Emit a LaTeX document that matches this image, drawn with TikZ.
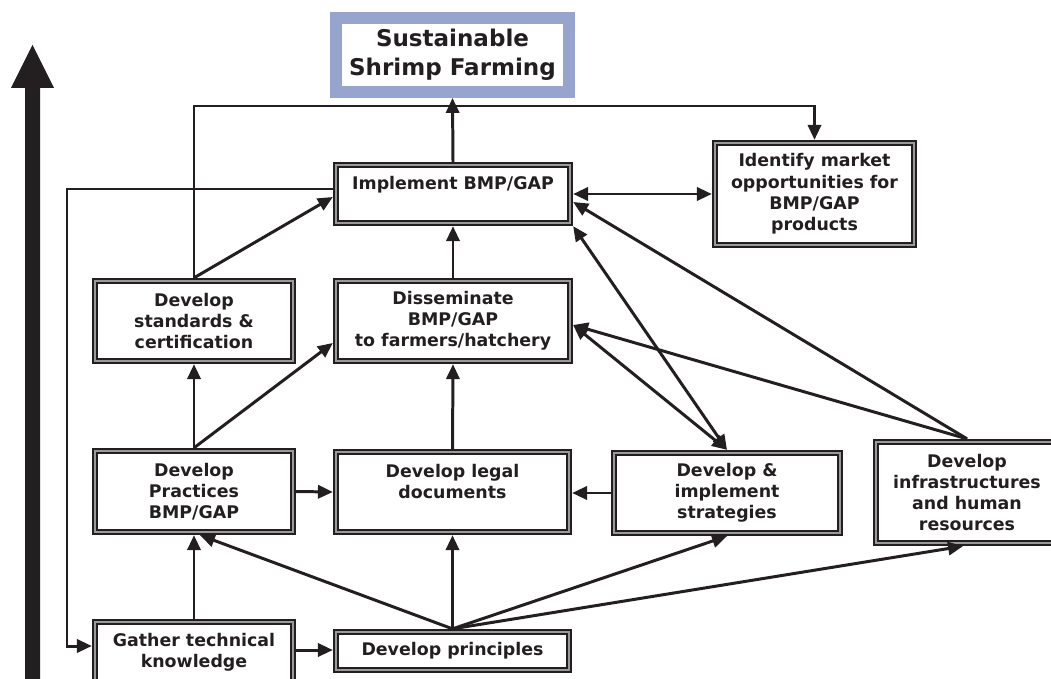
\documentclass[tikz,border=0pt]{standalone}
\usepackage{fontspec}
\setmainfont{DejaVu Sans}
\usetikzlibrary{arrows.meta,calc}
\definecolor{ink}{HTML}{231F20}
\definecolor{band}{HTML}{9A9A9A}
\definecolor{blueband}{HTML}{97A4CE}
\tikzset{
  box/.style={draw=ink, line width=3.6pt, fill=white, text=ink,
    font=\fontsize{9.9}{12.1}\selectfont\bfseries, align=center, inner sep=0pt,
    postaction={draw=band, line width=0.8pt}},
  titlebox/.style={draw=blueband, line width=6.8pt, fill=white, text=ink,
    font=\fontsize{13.1}{16.6}\selectfont\bfseries, align=center, inner sep=0pt},
  conn/.style={draw=ink, line width=1.7pt, -{Triangle[length=8.5pt,width=7.5pt]}},
  dconn/.style={draw=ink, line width=1.7pt, {Triangle[length=8.5pt,width=7.5pt]}-{Triangle[length=8.5pt,width=7.5pt]}},
}
\begin{document}
\begin{tikzpicture}[x=0.02cm, y=-0.02cm]
\useasboundingbox (0,0) rectangle (1051,679);
\clip (0,0) rectangle (1051,679);

% big upward arrow
\fill[ink] (25,690) -- (25,88) -- (11,88) -- (32.5,45) -- (54,88) -- (40,88) -- (40,690) -- cycle;

% nodes
\node[titlebox, minimum width=4.66cm, minimum height=1.48cm] (sus) at (452.5,55) {Sustainable\\Shrimp Farming};
\node[box, minimum width=4.68cm, minimum height=1.16cm] (impl) at (453,194) {Implement BMP/GAP\\~};
\node[box, minimum width=3.98cm, minimum height=2.04cm] (ident) at (814.5,194) {Identify market\\opportunities for\\BMP/GAP\\products};
\node[box, minimum width=3.96cm, minimum height=1.60cm] (std) at (194,321) {Develop\\standards \&\\certification};
\node[box, minimum width=4.68cm, minimum height=1.60cm] (diss) at (453,321) {Disseminate\\BMP/GAP\\to farmers/hatchery};
\node[box, minimum width=3.96cm, minimum height=1.62cm] (prac) at (194,491.5) {Develop\\Practices\\BMP/GAP};
\node[box, minimum width=4.66cm, minimum height=1.60cm] (legal) at (452.5,492) {Develop legal\\documents\\~};
\node[box, minimum width=4.52cm, minimum height=1.60cm] (strat) at (727,493) {Develop \&\\implement\\strategies};
\node[box, minimum width=3.64cm, minimum height=2.02cm] (infra) at (967,492.5) {Develop\\infrastructures\\and human\\resources};
\node[box, minimum width=3.96cm, minimum height=1.22cm] (gather) at (194,652.5) {Gather technical\\knowledge};
\node[box, minimum width=4.66cm, minimum height=0.76cm] (prin) at (452.5,651) {Develop principles};

% connectors
\draw[conn] (impl.north) -- (sus.south);
\draw[conn] (std.north) |- (ident.north |- 0,106) -- (ident.north);
\draw[conn] ($(impl.west)+(0,-5)$) -| (67,400) |- ($(gather.west)+(0,-6.5)$);
\draw[conn] (std.north) -- ($(impl.west)+(0,3)$);
\draw[conn] (diss.north) -- (impl.south);
\draw[dconn] (impl.east) -- (ident.west);
\draw[conn] (infra.north) -- ($(impl.east)+(0,8)$);
\draw[dconn] (strat.north) -- (impl.south east);
\draw[dconn] (strat.north) -- ($(diss.east)+(0,4)$);
\draw[conn] (infra.north) -- ($(diss.east)+(0,4)$);
\draw[conn] (prac.north) -- (std.south);
\draw[conn] (prac.north) -- ($(diss.west)+(0,22)$);
\draw[conn] (prac.east) -- (legal.west);
\draw[conn] (legal.north) -- (diss.south);
\draw[conn] (strat.west) -- (legal.east |- strat.west);
\draw[conn] (gather.north) -- (prac.south);
\draw[conn] ($(gather.east)+(0,-2.5)$) -- (prin.west |- 0,650);
\draw[conn] (prin.north) -- ($(prac.south)+(6,0)$);
\draw[conn] (prin.north) -- (legal.south);
\draw[conn] (prin.north) -- (strat.south);
\draw[conn] (prin.north) -- ($(infra.south)+(-4,0)$);
\end{tikzpicture}
\end{document}
